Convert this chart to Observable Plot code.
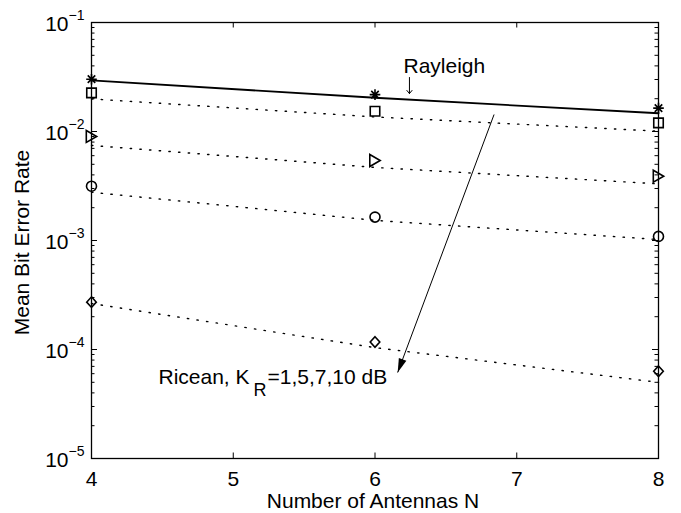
<!DOCTYPE html>
<html><head><meta charset="utf-8">
<script src="https://cdn.jsdelivr.net/npm/d3@7"></script>
<script src="https://cdn.jsdelivr.net/npm/@observablehq/plot@0.6"></script>
<style>body{margin:0;background:#fff} svg{display:block;background:#fff}</style>
</head><body><div id="chart"></div>
<script>
// ---- data ----
const antennas = [4, 6, 8];
const rayleighTheory = [0.0294, 0.0204, 0.0147];
const rayleighSim = [0.0302, 0.0218, 0.0164];
const riceanK1Theory = [0.0199, 0.0136, 0.01007];
const riceanK1Sim = [0.0226, 0.01535, 0.0120];
const riceanK5Theory = [0.00745, 0.00468, 0.00331];
const riceanK5Sim = [0.0090, 0.00542, 0.00389];
const riceanK7Theory = [0.00277, 0.00153, 0.00102];
const riceanK7Sim = [0.00315, 0.00164, 0.00109];
const riceanK10Theory = [0.000264, 0.000104, 0.0000500];
const riceanK10Sim = [0.000272, 0.000117, 0.0000632];
const xTicks = [4, 5, 6, 7, 8];
const yExponents = [-1, -2, -3, -4, -5];
const yMinorMantissas = [2, 3, 4, 5, 6, 7, 8, 9];
const annotationArrow = [{x1: 6.84, y1: 0.01432, x2: 6.16, y2: 0.0000615}];
const rayleighArrow = [{x1: 6.243, y1: 0.0313, x2: 6.243, y2: 0.0223}];
const rayleighLabel = [{x: 6.201, y: 0.03926, text: "Rayleigh"}];
const riceanLabel = [{x: 5.136, y: 0.0000553}];
const xLabel = "Number of Antennas N";
const yLabel = "Mean Bit Error Rate";

// ---- layout ----
const W = 681, H = 513;
const mL = 91, mR = 23, mT = 22, mB = 55;
const innerW = W - mL - mR, innerH = H - mT - mB;
const FONT = "Liberation Sans, Arial, Helvetica, sans-serif";

// ---- custom MATLAB-like marker symbols ----
function sym(fn) { return {draw(ctx, size) { const r = Math.sqrt(size / Math.PI); fn(ctx, r / 5); }}; }
const squareSym = sym((c, k) => { const h = 4.75 * k; c.moveTo(-h, -h); c.lineTo(h, -h); c.lineTo(h, h); c.lineTo(-h, h); c.closePath(); });
const triRightSym = sym((c, k) => { c.moveTo(-5.2 * k, -6 * k); c.lineTo(5.2 * k, 0); c.lineTo(-5.2 * k, 6 * k); c.closePath(); });
const diamondSym = sym((c, k) => { c.moveTo(0, -5.3 * k); c.lineTo(4.8 * k, 0); c.lineTo(0, 5.3 * k); c.lineTo(-4.8 * k, 0); c.closePath(); });
const circleSym = sym((c, k) => { c.moveTo(5 * k, 0); c.arc(0, 0, 5 * k, 0, 2 * Math.PI); c.closePath(); });
const starSym = sym((c, k) => { for (const a of [0, 45, 90, 135]) { const t = a * Math.PI / 180, L = 5.3 * k; c.moveTo(-L * Math.cos(t), -L * Math.sin(t)); c.lineTo(L * Math.cos(t), L * Math.sin(t)); } });
const headSym = sym((c, k) => { c.moveTo(0, 0); c.lineTo(-4 * k, 14 * k); c.lineTo(4 * k, 14 * k); c.closePath(); });

const curves = [
  {key: "Rayleigh", theory: rayleighTheory, sim: rayleighSim, symbol: starSym, solid: true},
  {key: "K1", theory: riceanK1Theory, sim: riceanK1Sim, symbol: squareSym},
  {key: "K5", theory: riceanK5Theory, sim: riceanK5Sim, symbol: triRightSym},
  {key: "K7", theory: riceanK7Theory, sim: riceanK7Sim, symbol: circleSym},
  {key: "K10", theory: riceanK10Theory, sim: riceanK10Sim, symbol: diamondSym}
];
const rows = c => antennas.map((n, i) => ({key: c.key, n, theory: c.theory[i], sim: c.sim[i]}));
const solidRows = curves.filter(c => c.solid).flatMap(rows);
const dottedRows = curves.filter(c => !c.solid).flatMap(rows);

const yMajor = yExponents.map(e => 10 ** e);
const yMinor = yExponents.slice(0, 4).flatMap(e => yMinorMantissas.map(m => m * 10 ** (e - 1)));

const txt = {fontFamily: FONT, fill: "black"};

const marks = [
  // inward ticks on all four sides
  Plot.tickX(xTicks, {x: d => d, insetTop: innerH - 5.5, stroke: "black", strokeWidth: 1}),
  Plot.tickX(xTicks, {x: d => d, insetBottom: innerH - 5.5, stroke: "black", strokeWidth: 1}),
  Plot.tickY(yMajor, {y: d => d, insetRight: innerW - 6, stroke: "black", strokeWidth: 1}),
  Plot.tickY(yMajor, {y: d => d, insetLeft: innerW - 6, stroke: "black", strokeWidth: 1}),
  Plot.tickY(yMinor, {y: d => d, insetRight: innerW - 3.5, stroke: "black", strokeWidth: 1}),
  Plot.tickY(yMinor, {y: d => d, insetLeft: innerW - 3.5, stroke: "black", strokeWidth: 1}),
  // curves
  Plot.line(dottedRows, {x: "n", y: "theory", z: "key", stroke: "black", strokeWidth: 1.4, strokeDasharray: "1.4,8.3"}),
  Plot.line(solidRows, {x: "n", y: "theory", z: "key", stroke: "black", strokeWidth: 1.8}),
  ...curves.map(c => Plot.dot(rows(c), {x: "n", y: "sim", symbol: c.symbol, r: 5, fill: "none", stroke: "black", strokeWidth: 1.6})),
  // annotations
  Plot.link(annotationArrow, {x1: "x1", y1: "y1", x2: "x2", y2: "y2", stroke: "black", strokeWidth: 1}),
  Plot.dot(annotationArrow, {x: "x2", y: "y2", symbol: headSym, r: 5, fill: "black", stroke: "none", rotate: 200.6}),
  Plot.arrow(rayleighArrow, {x1: "x1", y1: "y1", x2: "x2", y2: "y2", stroke: "black", strokeWidth: 1, headLength: 6, headAngle: 80}),
  Plot.text(rayleighLabel, {x: "x", y: "y", text: "text", textAnchor: "start", lineAnchor: "middle", fontSize: 21, ...txt}),
  Plot.text(riceanLabel, {x: "x", y: "y", text: () => "Ricean, K", textAnchor: "end", lineAnchor: "middle", dx: -3, fontSize: 21, ...txt}),
  Plot.text(riceanLabel, {x: "x", y: "y", text: () => "R", textAnchor: "start", lineAnchor: "middle", dx: 1, dy: 13, fontSize: 18, ...txt}),
  Plot.text(riceanLabel, {x: "x", y: "y", text: () => "=1,5,7,10 dB", textAnchor: "start", lineAnchor: "middle", dx: 15, fontSize: 21, ...txt}),
  // tick labels
  Plot.text(xTicks, {x: d => d, frameAnchor: "bottom", textAnchor: "middle", lineAnchor: "middle", dy: 21, text: d => String(d), fontSize: 21, ...txt}),
  Plot.text(yExponents, {y: e => 10 ** e, frameAnchor: "left", dx: -23, dy: 1.5, text: () => "10", textAnchor: "end", lineAnchor: "middle", fontSize: 21, ...txt}),
  Plot.text(yExponents, {y: e => 10 ** e, frameAnchor: "left", dx: -23, dy: -6.5, text: e => "\u2212" + Math.abs(e), textAnchor: "start", lineAnchor: "middle", fontSize: 14, ...txt}),
  // axis labels
  Plot.text([xLabel], {frameAnchor: "bottom", textAnchor: "middle", lineAnchor: "middle", dx: -2, dy: 43, text: d => d, fontSize: 21, ...txt}),
  Plot.text([yLabel], {frameAnchor: "left", textAnchor: "middle", lineAnchor: "middle", dx: -69, dy: 2, rotate: -90, text: d => d, fontSize: 21, ...txt}),
  Plot.frame({stroke: "black", strokeWidth: 1.3})
];

const chart = Plot.plot({
  width: W, height: H,
  marginLeft: mL, marginRight: mR, marginTop: mT, marginBottom: mB,
  x: {domain: [4, 8], axis: null},
  y: {type: "log", domain: [1e-5, 1e-1], axis: null},
  style: {background: "white", color: "black", fontFamily: FONT},
  marks
});
document.getElementById("chart").appendChild(chart);
</script>
</body></html>
